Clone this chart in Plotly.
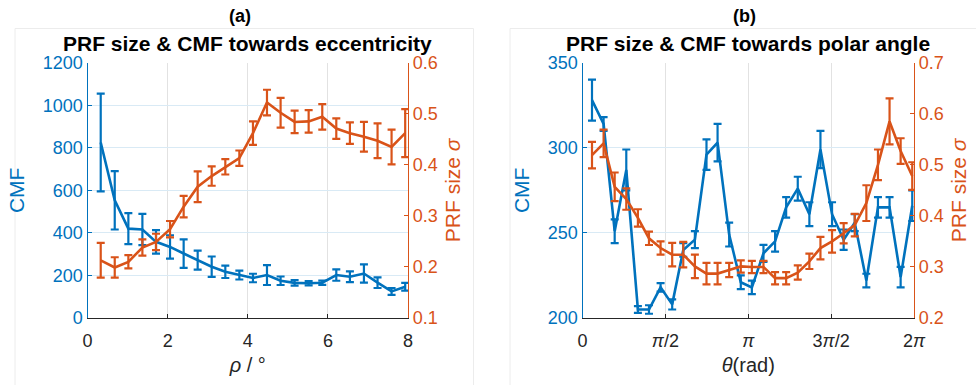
import plotly.graph_objects as go
import math

# ---------------- data ----------------
# (a) eccentricity
ecc_x = [0.33, 0.68, 1.02, 1.37, 1.71, 2.06, 2.40, 2.75, 3.10, 3.44, 3.79, 4.13,
         4.48, 4.82, 5.17, 5.52, 5.86, 6.21, 6.55, 6.90, 7.24, 7.59, 7.93]
ecc_cmf = [825, 553, 420, 416, 358, 334, 303, 272, 241, 217, 202, 188,
           202, 175, 165, 163, 166, 202, 194, 209, 166, 125, 147]
ecc_cmf_err = [230, 137, 73, 73, 55, 55, 67, 45, 48, 29, 21, 20,
               47, 20, 13, 10, 10, 27, 25, 43, 25, 16, 18]
ecc_prf = [0.213, 0.199, 0.210, 0.238, 0.249, 0.274, 0.318, 0.357, 0.378, 0.396, 0.413, 0.462,
           0.522, 0.502, 0.484, 0.485, 0.494, 0.471, 0.462, 0.455, 0.447, 0.435, 0.462]
ecc_prf_err = [0.034, 0.020, 0.013, 0.016, 0.016, 0.016, 0.021, 0.030, 0.019, 0.015, 0.015, 0.023,
               0.025, 0.029, 0.022, 0.022, 0.025, 0.020, 0.021, 0.029, 0.034, 0.034, 0.047]

# (b) polar angle
pol_x = [0.18, 0.40, 0.61, 0.83, 1.05, 1.26, 1.48, 1.70, 1.91, 2.13, 2.35, 2.56, 2.78, 3.00, 3.21,
         3.43, 3.65, 3.86, 4.08, 4.30, 4.51, 4.73, 4.95, 5.16, 5.38, 5.60, 5.82, 6.03, 6.25]
pol_cmf = [328, 314, 251, 287, 205, 205, 218, 208, 240, 246, 296, 303, 249, 221, 218,
           238, 245, 265, 276, 261, 299, 261, 246, 256, 222, 265, 265, 224, 266]
pol_cmf_err = [12, 4, 7, 12, 2, 2.5, 2.5, 3, 4, 5, 9, 11, 7, 4, 4,
               5, 6, 6, 7, 7, 11, 7, 6, 5, 4, 6, 6, 6, 9]
pol_prf = [0.519, 0.542, 0.457, 0.433, 0.396, 0.356, 0.337, 0.324, 0.324, 0.301, 0.287, 0.287, 0.294, 0.301, 0.300,
           0.300, 0.278, 0.278, 0.289, 0.311, 0.337, 0.350, 0.366, 0.382, 0.425, 0.500, 0.585, 0.527, 0.478]
pol_prf_err = [0.026, 0.027, 0.028, 0.021, 0.017, 0.013, 0.013, 0.023, 0.025, 0.023, 0.021, 0.021, 0.014, 0.012, 0.012,
               0.012, 0.012, 0.012, 0.014, 0.015, 0.022, 0.022, 0.020, 0.022, 0.035, 0.030, 0.045, 0.025, 0.027]

pol_tickvals = [0, math.pi / 2, math.pi, 3 * math.pi / 2, 2 * math.pi]
pol_ticktext = ["0", "<i>π</i>/2", "<i>π</i>", "3<i>π</i>/2", "2<i>π</i>"]

BLUE = "#0072BD"
ORANGE = "#D95319"
DARK = "#262626"
FONT = "Liberation Sans, Arial, sans-serif"
W, H = 976, 385


def px_x(p):
    return p / W


def px_y(p):
    return 1 - p / H


def trace(x, y, e, color, xa, ya):
    return go.Scatter(
        x=x, y=y, mode="lines", xaxis=xa, yaxis=ya,
        line=dict(color=color, width=2.6),
        error_y=dict(type="data", array=e, visible=True, color=color, thickness=2.2, width=4),
        showlegend=False, hoverinfo="skip",
    )


fig = go.Figure()
fig.add_trace(trace(ecc_x, ecc_cmf, ecc_cmf_err, BLUE, "x", "y"))
fig.add_trace(trace(ecc_x, ecc_prf, ecc_prf_err, ORANGE, "x", "y2"))
fig.add_trace(trace(pol_x, pol_cmf, pol_cmf_err, BLUE, "x2", "y3"))
fig.add_trace(trace(pol_x, pol_prf, pol_prf_err, ORANGE, "x2", "y4"))

ydom = [px_y(318), px_y(62.7)]
dom1 = [px_x(87.5), px_x(408)]
dom2 = [px_x(582.5), px_x(914)]

TICK = 18
tickfont_dark = dict(family=FONT, size=TICK, color=DARK)
grid_v = "#e2e2e2"
grid_h = "#d9eaf5"

xcommon = dict(showline=True, linecolor=DARK, linewidth=1.2, ticks="inside", ticklen=4,
               tickcolor=DARK, tickfont=tickfont_dark, showgrid=True, gridcolor=grid_v,
               gridwidth=1, zeroline=False, mirror=False, automargin=False, ticklabelstandoff=6)


def ycommon(color, side, gridcolor=None):
    d = dict(showline=True, linecolor=color, linewidth=1.2, ticks="inside", ticklen=4,
             tickcolor=color, tickfont=dict(family=FONT, size=TICK, color=color),
             zeroline=False, side=side, domain=ydom, automargin=False)
    if gridcolor:
        d.update(showgrid=True, gridcolor=gridcolor, gridwidth=1)
    else:
        d.update(showgrid=False)
    return d


fig.update_layout(
    width=W, height=H,
    margin=dict(l=0, r=0, t=0, b=0),
    paper_bgcolor="white", plot_bgcolor="white",
    font=dict(family=FONT),
    xaxis=dict(domain=dom1, range=[0, 8], tickvals=[0, 2, 4, 6, 8], anchor="y",
               title=dict(text="<i>ρ</i> / °", font=dict(family=FONT, size=20, color=DARK), standoff=8),
               **xcommon),
    yaxis=dict(range=[0, 1200], tickvals=[0, 200, 400, 600, 800, 1000, 1200], anchor="x",
               title=dict(text="CMF", font=dict(family=FONT, size=21, color=BLUE), standoff=12),
               **ycommon(BLUE, "left", grid_h)),
    yaxis2=dict(range=[0.1, 0.6], tickvals=[0.1, 0.2, 0.3, 0.4, 0.5, 0.6], overlaying="y", anchor="x",
                title=dict(text="PRF size <i>σ</i>", font=dict(family=FONT, size=21, color=ORANGE), standoff=8),
                **ycommon(ORANGE, "right")),
    xaxis2=dict(domain=dom2, range=[0, 2 * math.pi], tickvals=pol_tickvals, ticktext=pol_ticktext, anchor="y3",
                title=dict(text="<i>θ</i>(rad)", font=dict(family=FONT, size=20, color=DARK), standoff=8),
                **xcommon),
    yaxis3=dict(range=[200, 350], tickvals=[200, 250, 300, 350], anchor="x2",
                title=dict(text="CMF", font=dict(family=FONT, size=21, color=BLUE), standoff=12),
                **ycommon(BLUE, "left", grid_h)),
    yaxis4=dict(range=[0.2, 0.7], tickvals=[0.2, 0.3, 0.4, 0.5, 0.6, 0.7], overlaying="y3", anchor="x2",
                title=dict(text="PRF size <i>σ</i>", font=dict(family=FONT, size=21, color=ORANGE), standoff=8),
                **ycommon(ORANGE, "right")),
    shapes=[
        dict(type="rect", xref="paper", yref="paper", x0=px_x(15), x1=px_x(473.5), y0=-0.05, y1=px_y(28.5),
             line=dict(color="#ececec", width=1), fillcolor="rgba(0,0,0,0)", layer="below"),
        dict(type="rect", xref="paper", yref="paper", x0=px_x(510), x1=1.05, y0=-0.05, y1=px_y(28.5),
             line=dict(color="#ececec", width=1), fillcolor="rgba(0,0,0,0)", layer="below"),
    ],
    annotations=[
        dict(text="<b>(a)</b>", x=px_x(240), y=px_y(16), xref="paper", yref="paper", showarrow=False,
             font=dict(family=FONT, size=18, color="black"), xanchor="center", yanchor="middle"),
        dict(text="<b>(b)</b>", x=px_x(744), y=px_y(16), xref="paper", yref="paper", showarrow=False,
             font=dict(family=FONT, size=18, color="black"), xanchor="center", yanchor="middle"),
        dict(text="<b>PRF size & CMF towards eccentricity</b>", x=px_x(247.7), y=px_y(43.5), xref="paper",
             yref="paper", showarrow=False, font=dict(family=FONT, size=21, color="black"),
             xanchor="center", yanchor="middle"),
        dict(text="<b>PRF size & CMF towards polar angle</b>", x=px_x(748), y=px_y(43.5), xref="paper",
             yref="paper", showarrow=False, font=dict(family=FONT, size=21, color="black"),
             xanchor="center", yanchor="middle"),
    ],
)

# remove the browser's default 8px page margin so the figure sits at the window origin
fig.write_html("out.html", config={"displayModeBar": False},
               post_script="document.body.style.margin='0';")
